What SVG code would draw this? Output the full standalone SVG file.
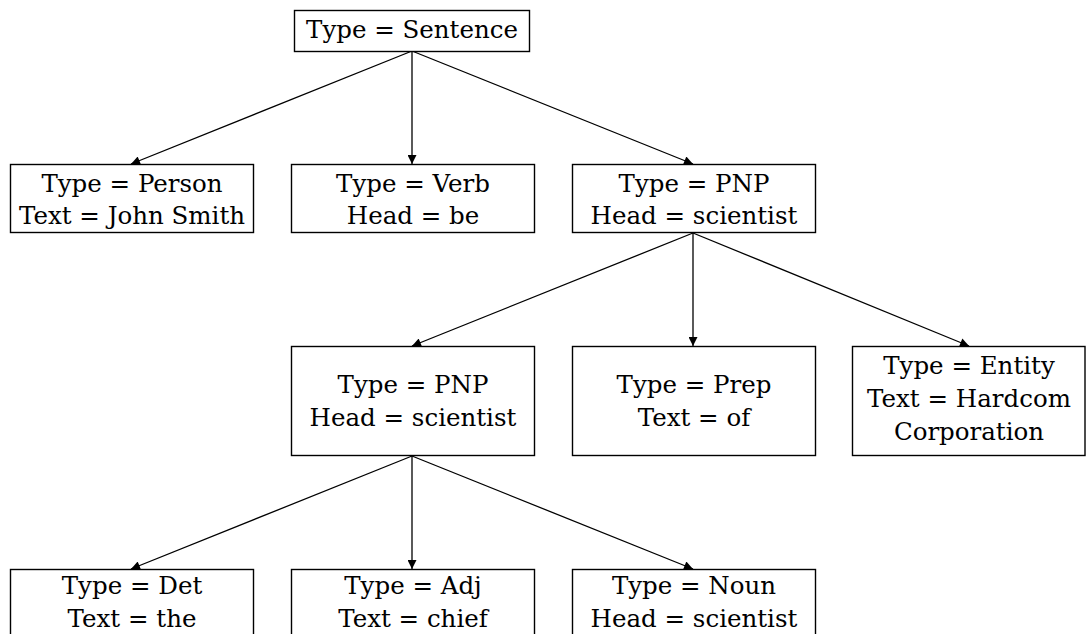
<svg xmlns="http://www.w3.org/2000/svg" width="1086" height="634" viewBox="0 0 1086 634">
<style>
  .box { fill: #ffffff; stroke: #000000; stroke-width: 1.4; }
  .lbl { font-family: "DejaVu Serif", "Liberation Serif", serif; font-size: 24.5px; fill: #000000; text-anchor: middle; }
  .edge { stroke: #000000; stroke-width: 1.3; fill: none; marker-end: url(#arrow); }
</style>
<defs>
  <marker id="arrow" viewBox="0 0 10 10" refX="10" refY="5" markerWidth="11" markerHeight="9" markerUnits="userSpaceOnUse" orient="auto">
    <path d="M0,0 L10,5 L0,10 Z" fill="#000000"/>
  </marker>
</defs>
<rect width="1086" height="634" fill="#ffffff"/>
<g id="connectors">
  <line class="edge" x1="412" y1="51" x2="131" y2="164"/>
  <line class="edge" x1="412" y1="51" x2="412" y2="164"/>
  <line class="edge" x1="412" y1="51" x2="693" y2="164"/>
  <line class="edge" x1="693" y1="233" x2="412" y2="346"/>
  <line class="edge" x1="693" y1="233" x2="693" y2="346"/>
  <line class="edge" x1="693" y1="233" x2="969" y2="346"/>
  <line class="edge" x1="412" y1="456" x2="131" y2="569"/>
  <line class="edge" x1="412" y1="456" x2="412" y2="569"/>
  <line class="edge" x1="412" y1="456" x2="693" y2="569"/>
</g>
<g id="sentence">
  <rect class="box" x="294.5" y="10.5" width="235" height="41"/>
  <text class="lbl" x="412" y="38">Type = Sentence</text>
</g>
<g id="person">
  <rect class="box" x="10.5" y="164.5" width="243" height="68"/>
  <text class="lbl" x="132" y="192">Type = Person</text>
  <text class="lbl" x="132" y="224">Text = John Smith</text>
</g>
<g id="verb">
  <rect class="box" x="291.5" y="164.5" width="243" height="68"/>
  <text class="lbl" x="413" y="192">Type = Verb</text>
  <text class="lbl" x="413" y="224">Head = be</text>
</g>
<g id="pnp1">
  <rect class="box" x="572.5" y="164.5" width="243" height="68"/>
  <text class="lbl" x="694" y="192">Type = PNP</text>
  <text class="lbl" x="694" y="224">Head = scientist</text>
</g>
<g id="pnp2">
  <rect class="box" x="291.5" y="346.5" width="243" height="109"/>
  <text class="lbl" x="413" y="393">Type = PNP</text>
  <text class="lbl" x="413" y="426">Head = scientist</text>
</g>
<g id="prep">
  <rect class="box" x="572.5" y="346.5" width="243" height="109"/>
  <text class="lbl" x="694" y="393">Type = Prep</text>
  <text class="lbl" x="694" y="426">Text = of</text>
</g>
<g id="entity">
  <rect class="box" x="852.5" y="346.5" width="232.5" height="109"/>
  <text class="lbl" x="969" y="374">Type = Entity</text>
  <text class="lbl" x="969" y="407">Text = Hardcom</text>
  <text class="lbl" x="969" y="440">Corporation</text>
</g>
<g id="det">
  <rect class="box" x="10.5" y="569.5" width="243" height="80"/>
  <text class="lbl" x="132" y="594">Type = Det</text>
  <text class="lbl" x="132" y="627">Text = the</text>
</g>
<g id="adj">
  <rect class="box" x="291.5" y="569.5" width="243" height="80"/>
  <text class="lbl" x="413" y="594">Type = Adj</text>
  <text class="lbl" x="413" y="627">Text = chief</text>
</g>
<g id="noun">
  <rect class="box" x="572.5" y="569.5" width="243" height="80"/>
  <text class="lbl" x="694" y="594">Type = Noun</text>
  <text class="lbl" x="694" y="627">Head = scientist</text>
</g>
</svg>
